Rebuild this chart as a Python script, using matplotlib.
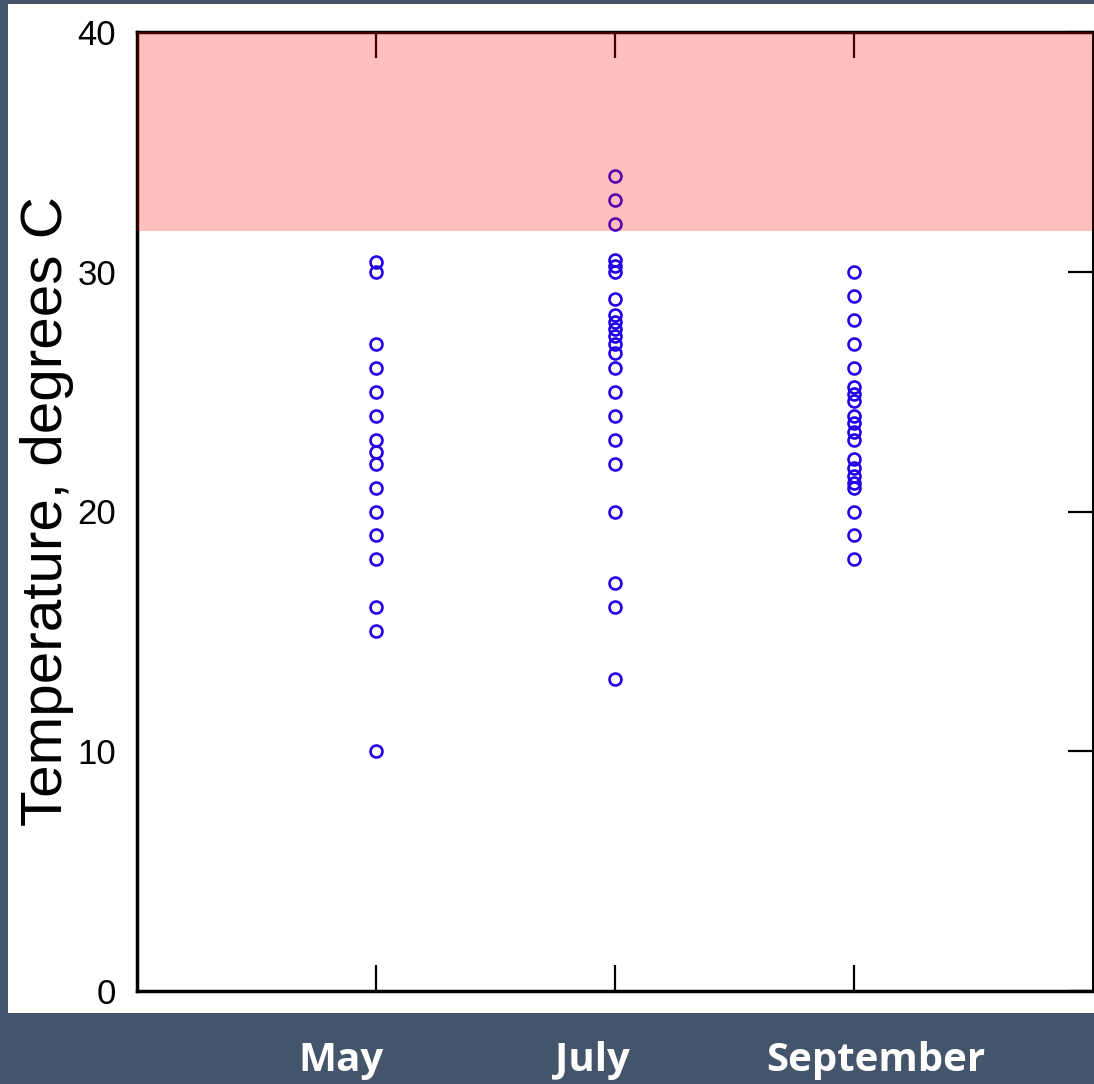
import matplotlib
matplotlib.use("Agg")
import matplotlib.pyplot as plt
from matplotlib.patches import Rectangle

# ---- data ----
months = ["May", "July", "September"]
may_temps = [30.4, 30.0, 27, 26, 25, 24, 23, 22.5, 22, 21, 20, 19, 18, 16, 15, 10]
july_temps = [34, 33, 32, 30.5, 30.25, 30.0, 28.85, 28.2, 27.9, 27.6, 27.3, 27.0,
              26.6, 26.0, 25, 24, 23, 22, 20, 17, 16, 13]
sept_temps = [30, 29, 28, 27, 26, 25.2, 24.9, 24.6, 24.0, 23.7, 23.3, 23.0,
              22.2, 21.8, 21.5, 21.2, 21.0, 20, 19, 18]
month_positions = [1, 2, 3]
yticks = [0, 10, 20, 30, 40]
danger_low, danger_high = 31.7, 40
ylabel = "Temperature, degrees C"

W, H = 1094, 1084
fig = plt.figure(figsize=(W / 100, H / 100), dpi=100)
fig.patch.set_facecolor("#44546A")

# white panel
fig.patches.append(Rectangle((8 / W, (H - 1013) / H), 1 - 8 / W, (1013 - 4) / H,
                             transform=fig.transFigure, facecolor="white",
                             edgecolor="none", zorder=-10))

ax = fig.add_axes([137 / W, (H - 991) / H, (1093 - 137) / W, (991 - 32) / H])
ax.set_zorder(1)
ax.set_facecolor("none")

marker_color = "#2200E8"
for xpos, temps in zip(month_positions, [may_temps, july_temps, sept_temps]):
    ax.plot([xpos] * len(temps), temps, linestyle="none", marker="o",
            markersize=8.6, markeredgewidth=1.9, markerfacecolor="none",
            markeredgecolor=marker_color, zorder=2, clip_on=False)

ax.axhspan(danger_low, danger_high, color="red", alpha=0.25, linewidth=0, zorder=3)

ax.set_xlim(0, 4)
ax.set_ylim(0, 40)
ax.set_xticks(month_positions)
ax.set_xticklabels([])
ax.set_yticks(yticks)
ax.set_yticklabels([str(t) for t in yticks],
                   fontfamily=["Liberation Sans", "DejaVu Sans"], fontsize=25)

ax.tick_params(axis="x", which="both", direction="in", length=19, width=1.6,
               top=True, bottom=True, labelbottom=False, color="black")
ax.tick_params(axis="y", which="both", direction="in", length=18, width=1.6,
               left=False, right=True, labelleft=True, labelright=False,
               pad=15, color="black")

for side in ["left", "bottom"]:
    ax.spines[side].set_linewidth(2.5)
ax.spines["top"].set_linewidth(2.5)
ax.spines["right"].set_linewidth(1.5)

ax.set_ylabel(ylabel, fontfamily=["Liberation Sans", "DejaVu Sans"], fontsize=42)
ax.yaxis.set_label_coords(-0.066, 0.5)

# month labels on dark band
label_x = [341, 592, 876]
for lbl, px in zip(months, label_x):
    fig.text(px / W, (H - 1060) / H, lbl, color="white", fontsize=29,
             fontweight="bold", fontfamily=["Open Sans", "DejaVu Sans"],
             ha="center", va="center")

fig.savefig("out.png", dpi=100, facecolor=fig.get_facecolor())
